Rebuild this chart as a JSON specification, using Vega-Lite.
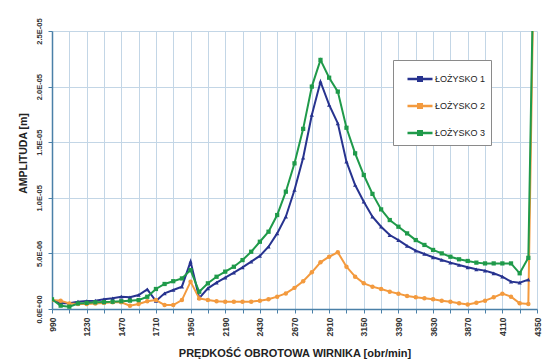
{
  "$schema": "https://vega.github.io/schema/vega-lite/v6.json",
  "width": 485,
  "height": 278,
  "autosize": "none",
  "padding": {"left": 52, "top": 31, "right": 17, "bottom": 50},
  "background": "white",
  "config": {
    "view": {"stroke": null},
    "font": "Liberation Sans"
  },
  "data": {
    "values": [
      {"r": 990, "ŁOŻYSKO 1": 0.81e-6, "ŁOŻYSKO 2": 0.80e-6, "ŁOŻYSKO 3": 0.87e-6},
      {"r": 1050, "ŁOŻYSKO 1": 0.51e-6, "ŁOŻYSKO 2": 0.75e-6, "ŁOŻYSKO 3": 0.30e-6},
      {"r": 1110, "ŁOŻYSKO 1": 0.51e-6, "ŁOŻYSKO 2": 0.50e-6, "ŁOŻYSKO 3": 0.21e-6},
      {"r": 1170, "ŁOŻYSKO 1": 0.66e-6, "ŁOŻYSKO 2": 0.45e-6, "ŁOŻYSKO 3": 0.50e-6},
      {"r": 1230, "ŁOŻYSKO 1": 0.72e-6, "ŁOŻYSKO 2": 0.45e-6, "ŁOŻYSKO 3": 0.55e-6},
      {"r": 1290, "ŁOŻYSKO 1": 0.75e-6, "ŁOŻYSKO 2": 0.50e-6, "ŁOŻYSKO 3": 0.60e-6},
      {"r": 1350, "ŁOŻYSKO 1": 0.87e-6, "ŁOŻYSKO 2": 0.55e-6, "ŁOŻYSKO 3": 0.62e-6},
      {"r": 1410, "ŁOŻYSKO 1": 0.96e-6, "ŁOŻYSKO 2": 0.60e-6, "ŁOŻYSKO 3": 0.65e-6},
      {"r": 1470, "ŁOŻYSKO 1": 1.11e-6, "ŁOŻYSKO 2": 0.60e-6, "ŁOŻYSKO 3": 0.70e-6},
      {"r": 1530, "ŁOŻYSKO 1": 1.05e-6, "ŁOŻYSKO 2": 0.30e-6, "ŁOŻYSKO 3": 0.75e-6},
      {"r": 1590, "ŁOŻYSKO 1": 1.26e-6, "ŁOŻYSKO 2": 0.45e-6, "ŁOŻYSKO 3": 0.80e-6},
      {"r": 1650, "ŁOŻYSKO 1": 1.77e-6, "ŁOŻYSKO 2": 0.70e-6, "ŁOŻYSKO 3": 1.10e-6},
      {"r": 1710, "ŁOŻYSKO 1": 0.72e-6, "ŁOŻYSKO 2": 0.80e-6, "ŁOŻYSKO 3": 1.80e-6},
      {"r": 1770, "ŁOŻYSKO 1": 1.41e-6, "ŁOŻYSKO 2": 0.35e-6, "ŁOŻYSKO 3": 2.25e-6},
      {"r": 1830, "ŁOŻYSKO 1": 1.71e-6, "ŁOŻYSKO 2": 0.35e-6, "ŁOŻYSKO 3": 2.50e-6},
      {"r": 1890, "ŁOŻYSKO 1": 2.01e-6, "ŁOŻYSKO 2": 0.80e-6, "ŁOŻYSKO 3": 2.75e-6},
      {"r": 1950, "ŁOŻYSKO 1": 4.26e-6, "ŁOŻYSKO 2": 2.46e-6, "ŁOŻYSKO 3": 3.50e-6},
      {"r": 2010, "ŁOŻYSKO 1": 0.98e-6, "ŁOŻYSKO 2": 0.95e-6, "ŁOŻYSKO 3": 1.55e-6},
      {"r": 2070, "ŁOŻYSKO 1": 1.86e-6, "ŁOŻYSKO 2": 0.80e-6, "ŁOŻYSKO 3": 2.31e-6},
      {"r": 2130, "ŁOŻYSKO 1": 2.37e-6, "ŁOŻYSKO 2": 0.70e-6, "ŁOŻYSKO 3": 2.90e-6},
      {"r": 2190, "ŁOŻYSKO 1": 2.82e-6, "ŁOŻYSKO 2": 0.66e-6, "ŁOŻYSKO 3": 3.36e-6},
      {"r": 2250, "ŁOŻYSKO 1": 3.27e-6, "ŁOŻYSKO 2": 0.66e-6, "ŁOŻYSKO 3": 3.80e-6},
      {"r": 2310, "ŁOŻYSKO 1": 3.75e-6, "ŁOŻYSKO 2": 0.66e-6, "ŁOŻYSKO 3": 4.40e-6},
      {"r": 2370, "ŁOŻYSKO 1": 4.26e-6, "ŁOŻYSKO 2": 0.66e-6, "ŁOŻYSKO 3": 5.15e-6},
      {"r": 2430, "ŁOŻYSKO 1": 4.77e-6, "ŁOŻYSKO 2": 0.75e-6, "ŁOŻYSKO 3": 6.05e-6},
      {"r": 2490, "ŁOŻYSKO 1": 5.60e-6, "ŁOŻYSKO 2": 0.87e-6, "ŁOŻYSKO 3": 6.95e-6},
      {"r": 2550, "ŁOŻYSKO 1": 6.80e-6, "ŁOŻYSKO 2": 1.11e-6, "ŁOŻYSKO 3": 8.45e-6},
      {"r": 2610, "ŁOŻYSKO 1": 8.30e-6, "ŁOŻYSKO 2": 1.40e-6, "ŁOŻYSKO 3": 10.55e-6},
      {"r": 2670, "ŁOŻYSKO 1": 10.70e-6, "ŁOŻYSKO 2": 1.90e-6, "ŁOŻYSKO 3": 13.10e-6},
      {"r": 2730, "ŁOŻYSKO 1": 13.60e-6, "ŁOŻYSKO 2": 2.50e-6, "ŁOŻYSKO 3": 16.20e-6},
      {"r": 2790, "ŁOŻYSKO 1": 17.45e-6, "ŁOŻYSKO 2": 3.30e-6, "ŁOŻYSKO 3": 20.00e-6},
      {"r": 2850, "ŁOŻYSKO 1": 20.44e-6, "ŁOŻYSKO 2": 4.20e-6, "ŁOŻYSKO 3": 22.40e-6},
      {"r": 2910, "ŁOŻYSKO 1": 18.35e-6, "ŁOŻYSKO 2": 4.70e-6, "ŁOŻYSKO 3": 20.80e-6},
      {"r": 2970, "ŁOŻYSKO 1": 16.70e-6, "ŁOŻYSKO 2": 5.10e-6, "ŁOŻYSKO 3": 19.55e-6},
      {"r": 3030, "ŁOŻYSKO 1": 13.25e-6, "ŁOŻYSKO 2": 3.80e-6, "ŁOŻYSKO 3": 16.30e-6},
      {"r": 3090, "ŁOŻYSKO 1": 11.15e-6, "ŁOŻYSKO 2": 2.91e-6, "ŁOŻYSKO 3": 14.00e-6},
      {"r": 3150, "ŁOŻYSKO 1": 9.65e-6, "ŁOŻYSKO 2": 2.31e-6, "ŁOŻYSKO 3": 12.05e-6},
      {"r": 3210, "ŁOŻYSKO 1": 8.30e-6, "ŁOŻYSKO 2": 2.01e-6, "ŁOŻYSKO 3": 10.35e-6},
      {"r": 3270, "ŁOŻYSKO 1": 7.40e-6, "ŁOŻYSKO 2": 1.80e-6, "ŁOŻYSKO 3": 8.96e-6},
      {"r": 3330, "ŁOŻYSKO 1": 6.65e-6, "ŁOŻYSKO 2": 1.56e-6, "ŁOŻYSKO 3": 8.00e-6},
      {"r": 3390, "ŁOŻYSKO 1": 6.20e-6, "ŁOŻYSKO 2": 1.38e-6, "ŁOŻYSKO 3": 7.40e-6},
      {"r": 3450, "ŁOŻYSKO 1": 5.67e-6, "ŁOŻYSKO 2": 1.17e-6, "ŁOŻYSKO 3": 6.80e-6},
      {"r": 3510, "ŁOŻYSKO 1": 5.25e-6, "ŁOŻYSKO 2": 1.05e-6, "ŁOŻYSKO 3": 6.20e-6},
      {"r": 3570, "ŁOŻYSKO 1": 4.95e-6, "ŁOŻYSKO 2": 0.96e-6, "ŁOŻYSKO 3": 5.76e-6},
      {"r": 3630, "ŁOŻYSKO 1": 4.65e-6, "ŁOŻYSKO 2": 0.87e-6, "ŁOŻYSKO 3": 5.31e-6},
      {"r": 3690, "ŁOŻYSKO 1": 4.41e-6, "ŁOŻYSKO 2": 0.75e-6, "ŁOŻYSKO 3": 5.00e-6},
      {"r": 3750, "ŁOŻYSKO 1": 4.17e-6, "ŁOŻYSKO 2": 0.66e-6, "ŁOŻYSKO 3": 4.70e-6},
      {"r": 3810, "ŁOŻYSKO 1": 3.96e-6, "ŁOŻYSKO 2": 0.51e-6, "ŁOŻYSKO 3": 4.47e-6},
      {"r": 3870, "ŁOŻYSKO 1": 3.75e-6, "ŁOŻYSKO 2": 0.40e-6, "ŁOŻYSKO 3": 4.32e-6},
      {"r": 3930, "ŁOŻYSKO 1": 3.57e-6, "ŁOŻYSKO 2": 0.57e-6, "ŁOŻYSKO 3": 4.17e-6},
      {"r": 3990, "ŁOŻYSKO 1": 3.45e-6, "ŁOŻYSKO 2": 0.75e-6, "ŁOŻYSKO 3": 4.10e-6},
      {"r": 4050, "ŁOŻYSKO 1": 3.21e-6, "ŁOŻYSKO 2": 1.05e-6, "ŁOŻYSKO 3": 4.10e-6},
      {"r": 4110, "ŁOŻYSKO 1": 2.91e-6, "ŁOŻYSKO 2": 1.38e-6, "ŁOŻYSKO 3": 4.10e-6},
      {"r": 4170, "ŁOŻYSKO 1": 2.46e-6, "ŁOŻYSKO 2": 1.11e-6, "ŁOŻYSKO 3": 4.10e-6},
      {"r": 4230, "ŁOŻYSKO 1": 2.37e-6, "ŁOŻYSKO 2": 0.51e-6, "ŁOŻYSKO 3": 3.21e-6},
      {"r": 4290, "ŁOŻYSKO 1": 2.64e-6, "ŁOŻYSKO 2": 0.45e-6, "ŁOŻYSKO 3": 4.60e-6},
      {"r": 4350, "ŁOŻYSKO 1": null, "ŁOŻYSKO 2": 49e-6, "ŁOŻYSKO 3": 49e-6}
    ]
  },
  "transform": [
    {"fold": ["ŁOŻYSKO 1", "ŁOŻYSKO 2", "ŁOŻYSKO 3"], "as": ["s", "a"]}
  ],
  "encoding": {
    "x": {
      "field": "r",
      "type": "quantitative",
      "scale": {"domain": [990, 4350], "nice": false, "zero": false},
      "title": "PRĘDKOŚĆ OBROTOWA WIRNIKA  [obr/min]",
      "axis": {
        "values": [990, 1110, 1230, 1350, 1470, 1590, 1710, 1830, 1950, 2070, 2190, 2310, 2430, 2550, 2670, 2790, 2910, 3030, 3150, 3270, 3390, 3510, 3630, 3750, 3870, 3990, 4110, 4230, 4350],
        "labelExpr": "(datum.value - 990) % 240 == 0 ? datum.value : ''",
        "labelAngle": -90,
        "labelAlign": "right",
        "labelBaseline": "middle",
        "labelFont": "Liberation Sans",
        "labelFontSize": 8.5,
        "labelFontWeight": "bold",
        "labelColor": "#333333",
        "labelPadding": 4,
        "labelOverlap": false,
        "labelFlush": false,
        "tickSize": 4,
        "tickColor": "#4a80a8",
        "domainColor": "#4a80a8",
        "domainWidth": 1.5,
        "grid": true,
        "gridColor": "#c3d6e6",
        "gridWidth": 1,
        "titleFont": "Liberation Sans",
        "titleFontSize": 11,
        "titleFontWeight": "bold",
        "titleColor": "#222222",
        "titleBaseline": "alphabetic",
        "titleY": 47
      }
    },
    "y": {
      "field": "a",
      "type": "quantitative",
      "scale": {"domain": [0, 2.5e-5], "nice": false, "zero": true},
      "title": "AMPLITUDA [m]",
      "axis": {
        "values": [0, 5e-6, 1e-5, 1.5e-5, 2e-5, 2.5e-5],
        "labelExpr": "datum.value == 0 ? '0.0E+00' : replace(upper(format(datum.value, '.1e')), 'E-', 'E-0')",
        "labelAngle": 270,
        "labelAlign": "center",
        "labelBaseline": "alphabetic",
        "labelFont": "Liberation Sans",
        "labelFontSize": 7.5,
        "labelFontWeight": "bold",
        "labelColor": "#333333",
        "labelPadding": 7,
        "labelOverlap": false,
        "labelFlush": false,
        "tickSize": 4,
        "tickColor": "#4a80a8",
        "domainColor": "#4a80a8",
        "domainWidth": 1.5,
        "grid": true,
        "gridColor": "#c3d6e6",
        "gridWidth": 1,
        "titleFont": "Liberation Sans",
        "titleFontSize": 10.5,
        "titleFontWeight": "bold",
        "titleColor": "#222222",
        "titleAngle": 270,
        "titleAlign": "center",
        "titleBaseline": "middle",
        "titleX": -29,
        "titleY": 122
      }
    }
  },
  "layer": [
    {
      "mark": {"type": "line", "strokeWidth": 2, "clip": true},
      "encoding": {
        "color": {
          "field": "s",
          "type": "nominal",
          "scale": {
            "domain": ["ŁOŻYSKO 1", "ŁOŻYSKO 2", "ŁOŻYSKO 3"],
            "range": ["#27338f", "#f39a3e", "#1f9a4a"]
          },
          "legend": {
            "title": null,
            "orient": "none",
            "legendX": 341,
            "legendY": 29,
            "padding": 5,
            "strokeColor": "#8a8a8a",
            "fillColor": "white",
            "symbolType": "M-1,0H1M-0.14,-0.14H0.14V0.14H-0.14Z",
            "symbolSize": 625,
            "symbolStrokeWidth": 2.5,
            "symbolOffset": 8,
            "labelFont": "Liberation Sans",
            "labelFontSize": 9,
            "labelColor": "#222222",
            "labelOffset": 1,
            "rowPadding": 6
          }
        }
      }
    },
    {
      "transform": [{"filter": "datum.s == 'ŁOŻYSKO 1'"}],
      "mark": {"type": "point", "filled": true, "opacity": 1, "size": 18, "shape": "triangle-up", "color": "#27338f", "clip": true}
    },
    {
      "transform": [{"filter": "datum.s == 'ŁOŻYSKO 2'"}],
      "mark": {"type": "point", "filled": true, "opacity": 1, "size": 20, "shape": "circle", "color": "#f39a3e", "clip": true}
    },
    {
      "transform": [{"filter": "datum.s == 'ŁOŻYSKO 3'"}],
      "mark": {"type": "point", "filled": true, "opacity": 1, "size": 18, "shape": "square", "color": "#1f9a4a", "clip": true}
    }
  ]
}
